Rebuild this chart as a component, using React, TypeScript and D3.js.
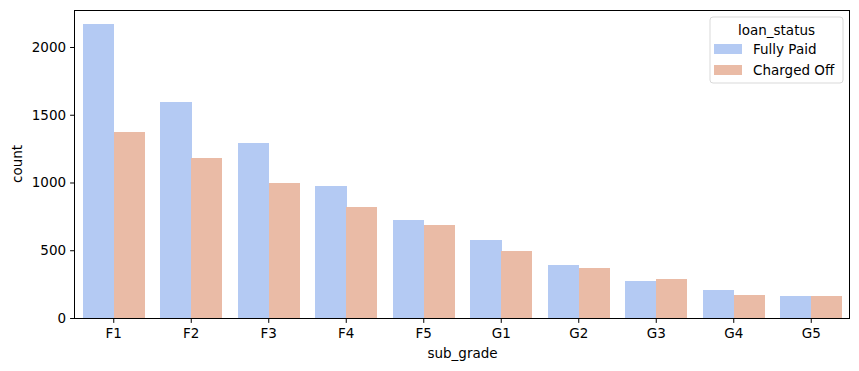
import React, { useRef, useEffect } from 'react';
import * as d3 from 'd3';

const subGrades = ['F1', 'F2', 'F3', 'F4', 'F5', 'G1', 'G2', 'G3', 'G4', 'G5'];
const statuses = ['Fully Paid', 'Charged Off'];
const fullyPaid = [2170, 1594, 1292, 974, 723, 576, 391, 273, 207, 162];
const chargedOff = [1373, 1181, 996, 819, 686, 494, 369, 288, 170, 162];
const yTicks = [0, 500, 1000, 1500, 2000];
const colors = ['#b4caf3', '#eabba6'];

const App = () => {
  const ref = useRef<SVGSVGElement>(null);

  useEffect(() => {
    const svg = d3.select(ref.current);
    svg.selectAll('*').remove();

    const width = 859;
    const height = 371;
    const margin = { top: 10, right: 9, bottom: 53, left: 75 };
    const font = 'DejaVu Sans, sans-serif';
    const fs = 13.5;

    const x = d3
      .scaleBand()
      .domain(subGrades)
      .range([margin.left, width - margin.right])
      .paddingInner(0.2)
      .paddingOuter(0.1);
    const hue = d3.scaleBand().domain(statuses).range([0, x.bandwidth()]);
    const y = d3
      .scaleLinear()
      .domain([0, 2273])
      .range([height - margin.bottom, margin.top]);

    const series = [fullyPaid, chargedOff];
    series.forEach((vals, si) => {
      svg
        .append('g')
        .attr('shape-rendering', 'crispEdges')
        .selectAll('rect')
        .data(vals)
        .enter()
        .append('rect')
        .attr('x', (d, i) => (x(subGrades[i]) as number) + (hue(statuses[si]) as number))
        .attr('y', d => y(d))
        .attr('width', hue.bandwidth() + (si === 0 ? 0.5 : 0))
        .attr('height', d => y(0) - y(d))
        .attr('fill', colors[si]);
    });

    // axes
    const xAxis = svg
      .append('g')
      .attr('transform', `translate(0,${height - margin.bottom})`)
      .call(d3.axisBottom(x).tickSize(4.9).tickPadding(6));
    const yAxis = svg
      .append('g')
      .attr('transform', `translate(${margin.left},0)`)
      .call(d3.axisLeft(y).tickValues(yTicks).tickFormat(d3.format('d')).tickSize(4.9).tickPadding(4));
    [xAxis, yAxis].forEach(a => {
      a.select('.domain').remove();
      a.selectAll('text').attr('font-family', font).attr('font-size', fs).attr('fill', '#000');
      a.selectAll('line').attr('stroke', '#000').attr('stroke-width', 1);
    });

    svg
      .append('rect')
      .attr('x', margin.left - 0.5)
      .attr('y', margin.top + 0.5)
      .attr('width', width - margin.left - margin.right)
      .attr('height', height - margin.top - margin.bottom)
      .attr('fill', 'none')
      .attr('stroke', '#000')
      .attr('stroke-width', 1);

    svg
      .append('text')
      .attr('x', (margin.left + width - margin.right) / 2)
      .attr('y', 358)
      .attr('text-anchor', 'middle')
      .attr('font-family', font)
      .attr('font-size', fs)
      .text('sub_grade');
    svg
      .append('text')
      .attr('transform', `translate(22,${(margin.top + height - margin.bottom) / 2}) rotate(-90)`)
      .attr('text-anchor', 'middle')
      .attr('font-family', font)
      .attr('font-size', fs)
      .text('count');

    // legend
    const lg = svg.append('g').attr('transform', 'translate(710,17)');
    lg.append('rect')
      .attr('width', 133)
      .attr('height', 66)
      .attr('rx', 3)
      .attr('fill', '#fff')
      .attr('fill-opacity', 0.8)
      .attr('stroke', '#d9d9d9');
    lg.append('text')
      .attr('x', 66.5)
      .attr('y', 18)
      .attr('text-anchor', 'middle')
      .attr('font-family', font)
      .attr('font-size', fs)
      .text('loan_status');
    statuses.forEach((s, i) => {
      lg.append('rect')
        .attr('x', 4)
        .attr('y', 27 + i * 21)
        .attr('width', 28)
        .attr('height', 10)
        .attr('fill', colors[i]);
      lg.append('text')
        .attr('x', 43)
        .attr('y', 37 + i * 21)
        .attr('font-family', font)
        .attr('font-size', fs)
        .text(s);
    });
  }, []);

  return <svg ref={ref} width={859} height={371} style={{ position: 'absolute', left: 0, top: 0 }} />;
};

export default App;
